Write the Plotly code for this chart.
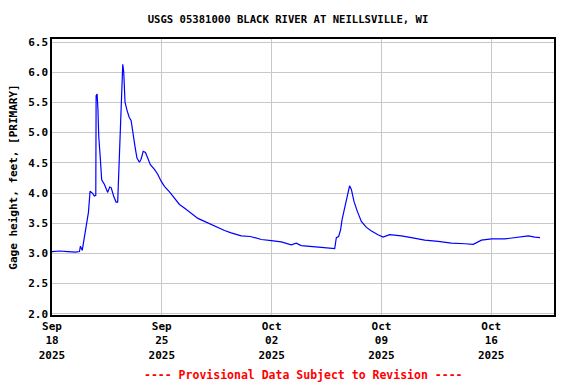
import plotly.graph_objects as go

# Gage height readings
times = [
    "2025-09-18 00:00", "2025-09-18 12:00", "2025-09-19 00:00", "2025-09-19 12:00",
    "2025-09-19 18:00", "2025-09-19 19:30", "2025-09-19 22:15", "2025-09-20 01:30",
    "2025-09-20 04:00", "2025-09-20 07:45", "2025-09-20 10:15", "2025-09-20 14:30",
    "2025-09-20 16:45", "2025-09-20 19:00", "2025-09-20 19:30", "2025-09-20 21:00",
    "2025-09-20 22:15", "2025-09-20 23:30", "2025-09-21 02:00", "2025-09-21 04:00",
    "2025-09-21 08:15", "2025-09-21 13:15", "2025-09-21 16:15", "2025-09-21 18:30",
    "2025-09-21 22:15", "2025-09-22 02:00", "2025-09-22 04:30", "2025-09-22 05:30",
    "2025-09-22 07:15", "2025-09-22 08:45", "2025-09-22 10:45", "2025-09-22 12:15",
    "2025-09-22 13:45", "2025-09-22 15:45", "2025-09-22 19:00", "2025-09-22 22:15",
    "2025-09-23 01:00", "2025-09-23 03:30", "2025-09-23 07:15", "2025-09-23 10:00",
    "2025-09-23 13:45", "2025-09-23 16:15", "2025-09-23 19:30", "2025-09-23 23:00",
    "2025-09-24 02:45", "2025-09-24 06:30", "2025-09-24 12:45", "2025-09-24 17:45",
    "2025-09-24 22:45", "2025-09-25 04:00", "2025-09-25 11:45", "2025-09-25 19:15",
    "2025-09-26 03:00", "2025-09-26 10:30", "2025-09-26 21:00", "2025-09-27 07:15",
    "2025-09-27 17:15", "2025-09-28 03:30", "2025-09-28 13:45", "2025-09-29 00:00",
    "2025-09-29 10:00", "2025-09-30 01:30", "2025-09-30 15:30", "2025-10-01 08:15",
    "2025-10-01 23:30", "2025-10-02 14:45", "2025-10-03 06:00", "2025-10-03 13:45",
    "2025-10-03 21:15", "2025-10-04 12:45", "2025-10-05 04:00", "2025-10-06 00:30",
    "2025-10-06 03:00", "2025-10-06 06:30", "2025-10-06 09:30", "2025-10-06 11:45",
    "2025-10-06 15:45", "2025-10-06 20:00", "2025-10-06 23:15", "2025-10-07 02:00",
    "2025-10-07 06:00", "2025-10-07 11:00", "2025-10-07 17:15", "2025-10-08 01:00",
    "2025-10-08 08:45", "2025-10-08 18:45", "2025-10-09 02:30", "2025-10-09 12:30",
    "2025-10-10 06:30", "2025-10-10 21:45", "2025-10-11 18:15", "2025-10-12 14:45",
    "2025-10-13 11:00", "2025-10-14 07:30", "2025-10-14 20:30", "2025-10-15 09:00",
    "2025-10-16 00:30", "2025-10-16 21:00", "2025-10-17 17:15", "2025-10-18 08:45",
    "2025-10-18 18:45", "2025-10-19 02:30",
]
gage_height = [
    3.03, 3.04, 3.03, 3.02,
    3.03, 3.12, 3.05, 3.26,
    3.45, 3.68, 4.03, 3.99,
    3.95, 3.96, 5.61, 5.64,
    5.39, 4.94, 4.56, 4.22,
    4.14, 4.01, 4.10, 4.09,
    3.95, 3.85, 3.85, 4.17,
    4.61, 5.25, 5.94, 6.13,
    6.00, 5.50, 5.36, 5.25,
    5.20, 5.00, 4.75, 4.58,
    4.51, 4.56, 4.69, 4.67,
    4.58, 4.47, 4.39, 4.31,
    4.20, 4.11, 4.02, 3.92,
    3.81, 3.75, 3.66, 3.58,
    3.53, 3.48, 3.42, 3.38,
    3.34, 3.29, 3.28, 3.23,
    3.21, 3.19, 3.14, 3.17,
    3.13, 3.12, 3.10, 3.08,
    3.26, 3.28, 3.39, 3.56,
    3.75, 3.95, 4.12, 4.06,
    3.86, 3.70, 3.53, 3.43,
    3.37, 3.31, 3.27, 3.31,
    3.29, 3.26, 3.22, 3.20,
    3.17, 3.16, 3.15, 3.22,
    3.24, 3.24, 3.27, 3.29,
    3.27, 3.26,
]

x_tick_vals = ["2025-09-18", "2025-09-25", "2025-10-02", "2025-10-09", "2025-10-16"]
x_tick_text = ["Sep<br>18<br>2025", "Sep<br>25<br>2025", "Oct<br>02<br>2025",
               "Oct<br>09<br>2025", "Oct<br>16<br>2025"]
y_tick_vals = [2.0, 2.5, 3.0, 3.5, 4.0, 4.5, 5.0, 5.5, 6.0, 6.5]

title_text = "USGS 05381000 BLACK RIVER AT NEILLSVILLE, WI"
y_title = "Gage height, feet, [PRIMARY]"
footer_text = "---- Provisional Data Subject to Revision ----"

FONT = "DejaVu Sans Mono"

fig = go.Figure()
fig.add_trace(go.Scatter(
    x=times, y=gage_height, mode="lines",
    line=dict(color="#0000ff", width=1.2),
    hoverinfo="x+y", showlegend=False,
))

fig.update_layout(
    width=576, height=384,
    margin=dict(l=52, r=22, t=39, b=69),
    paper_bgcolor="white", plot_bgcolor="white",
    font=dict(family=FONT, size=11, color="black", weight="bold"),
    title=dict(text=title_text, x=0.5, xref="container", xanchor="center",
               y=1 - 19 / 384, yref="container", yanchor="middle",
               font=dict(family=FONT, size=10.6, color="black", weight="bold")),
    xaxis=dict(
        type="date",
        range=["2025-09-18", "2025-10-20"],
        tickvals=x_tick_vals, ticktext=x_tick_text,
        showgrid=True, gridcolor="#c8c8c8", gridwidth=1,
        showline=True, linecolor="black", linewidth=1.5, mirror=True,
        ticks="", zeroline=False,
        tickfont=dict(family=FONT, size=11, color="black", weight="bold"),
    ),
    yaxis=dict(
        range=[1.98, 6.55],
        tickvals=y_tick_vals, tickformat=".1f",
        showgrid=True, gridcolor="#c8c8c8", gridwidth=1,
        showline=True, linecolor="black", linewidth=1.5, mirror=True,
        ticks="", zeroline=False,
        title=dict(text=y_title, standoff=8,
                   font=dict(family=FONT, size=11, color="black", weight="bold")),
        tickfont=dict(family=FONT, size=11, color="black", weight="bold"),
    ),
    annotations=[dict(
        text=footer_text, xref="paper", yref="paper", x=0.5, y=-(375 - 315) / 276,
        xanchor="center", yanchor="middle", showarrow=False,
        font=dict(family=FONT, size=11.5, color="red", weight="bold"),
    )],
)

fig.write_html(
    "out.html",
    config={"displayModeBar": False},
    post_script="document.body.style.margin='0';document.body.style.overflow='hidden';",
)
